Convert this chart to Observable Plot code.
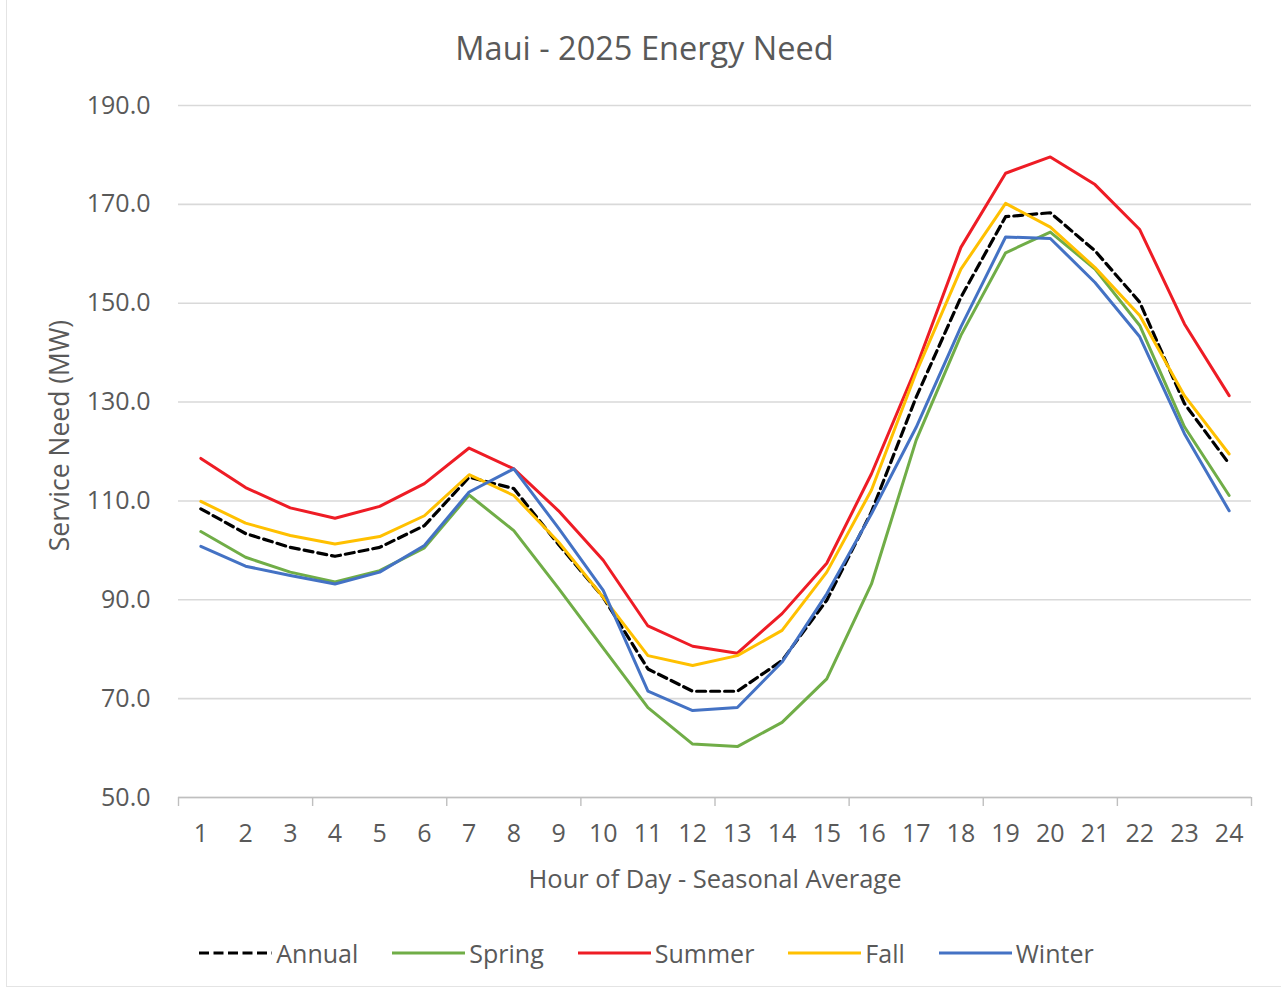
<!DOCTYPE html>
<html>
<head>
<meta charset="utf-8">
<script src="https://cdn.jsdelivr.net/npm/d3@7"></script>
<script src="https://cdn.jsdelivr.net/npm/@observablehq/plot@0.6"></script>
<style>
  html, body { margin: 0; padding: 0; background: #fff; }
  body { width: 1281px; height: 994px; position: relative; overflow: hidden; font-family: "Open Sans", sans-serif; color: #595959; }
  #frame { position: absolute; left: 6px; top: -2px; width: 1290px; height: 989px; border: 1px solid #e4e4e4; box-sizing: border-box; pointer-events: none; }
  #title { height: 85px; box-sizing: border-box; padding-top: 10px; line-height: 76px; text-align: center; font-size: 32.5px; padding-left: 8px; }
  #chart { height: 820px; }
  #legend { display: flex; justify-content: center; align-items: center; height: 60px; margin-top: 18px; font-size: 25px; padding-left: 12px; }
  .item { display: flex; align-items: center; margin: 0 17px; }
  .item svg { margin-right: 4px; }
</style>
</head>
<body>
<div id="frame"></div>
<div id="title"></div>
<div id="chart"></div>
<div id="legend"></div>
<script>
const titleText = "Maui - 2025 Energy Need";
const yLabel = "Service Need (MW)";
const xLabel = "Hour of Day - Seasonal Average";

const hours = d3.range(1, 25);
const yTicks = [50, 70, 90, 110, 130, 150, 170, 190];
const tickBoundaries = [0.5, 3.5, 6.5, 9.5, 12.5, 15.5, 18.5, 21.5, 24.5];

const seriesNames = ["Annual", "Spring", "Summer", "Fall", "Winter"];
const seriesColors = ["#000000", "#70AD47", "#EE1C25", "#FFC000", "#4472C4"];

const annual = [108.4, 103.4, 100.6, 98.8, 100.6, 105.0, 114.8, 112.5, 101.2, 90.5, 76.0, 71.5, 71.5, 77.7, 89.9, 107.8, 131.0, 151.2, 167.5, 168.3, 160.6, 150.2, 129.7, 117.5];
const spring = [103.8, 98.6, 95.6, 93.6, 95.9, 100.5, 111.2, 104.0, 92.3, 80.2, 68.2, 60.8, 60.3, 65.2, 74.0, 93.2, 122.3, 143.5, 160.2, 164.4, 156.9, 145.5, 125.0, 111.1];
const summer = [118.6, 112.7, 108.6, 106.5, 108.9, 113.5, 120.7, 116.5, 108.0, 98.0, 84.7, 80.6, 79.2, 87.2, 97.4, 115.5, 137.0, 161.3, 176.3, 179.6, 174.0, 164.9, 145.8, 131.3];
const fall = [109.9, 105.5, 103.0, 101.3, 102.8, 107.0, 115.3, 111.1, 101.7, 90.5, 78.7, 76.7, 78.7, 83.8, 95.6, 112.2, 136.0, 156.9, 170.2, 165.4, 157.2, 147.5, 131.3, 119.5];
const winter = [100.8, 96.8, 94.9, 93.2, 95.6, 101.0, 111.8, 116.5, 104.5, 91.9, 71.5, 67.6, 68.2, 77.4, 91.2, 107.4, 124.9, 145.2, 163.4, 163.1, 154.2, 143.2, 123.6, 108.0];

const seriesValues = [annual, spring, summer, fall, winter];
const rows = seriesNames.flatMap((name, i) => seriesValues[i].map((v, j) => ({series: name, hour: hours[j], value: v})));

document.getElementById("title").textContent = titleText;

const font = "Open Sans, sans-serif";
const solidSeries = seriesNames.filter(s => s !== "Annual");

const chart = Plot.plot({
  width: 1281,
  height: 820,
  marginLeft: 178,
  marginRight: 30,
  marginTop: 20,
  marginBottom: 108,
  style: {fontFamily: font, color: "#595959", background: "white"},
  x: {type: "linear", domain: [0.5, 24.5]},
  y: {type: "linear", domain: [50, 190]},
  color: {domain: seriesNames, range: seriesColors},
  marks: [
    Plot.gridY({ticks: yTicks, stroke: "#d9d9d9", strokeOpacity: 1, strokeWidth: 1.6}),
    Plot.ruleY([50], {stroke: "#bfbfbf", strokeWidth: 1.6}),
    Plot.axisX({ticks: tickBoundaries, tickSize: 9, tickFormat: () => "", stroke: "#bfbfbf", strokeWidth: 1.4, label: null}),
    Plot.axisX({ticks: hours, tickSize: 0, tickPadding: 27, fontSize: 25, fill: "#595959", label: null, tickFormat: d => String(d)}),
    Plot.axisY({ticks: yTicks, tickSize: 0, tickPadding: 28, fontSize: 25, fill: "#595959", label: null, tickFormat: d => d.toFixed(1)}),
    Plot.text([xLabel], {frameAnchor: "bottom", dy: 90, fontSize: 25.5, fill: "#595959", text: d => d}),
    Plot.text([yLabel], {frameAnchor: "left", textAnchor: "middle", dx: -118, dy: -16, rotate: -90, fontSize: 26.5, fill: "#595959", text: d => d}),
    Plot.line(rows.filter(d => d.series === "Annual"), {x: "hour", y: "value", stroke: "series", strokeWidth: 3.2, strokeDasharray: "9,5", strokeLinejoin: "round"}),
    ...solidSeries.map(s => Plot.line(rows.filter(d => d.series === s), {x: "hour", y: "value", stroke: "series", strokeWidth: 3, strokeLinejoin: "round"}))
  ]
});
document.getElementById("chart").appendChild(chart);

const legend = document.getElementById("legend");
seriesNames.forEach((name, i) => {
  const item = document.createElement("div");
  item.className = "item";
  const dash = name === "Annual" ? ' stroke-dasharray="10,4.5"' : "";
  item.innerHTML = `<svg width="73" height="10"><line x1="0" y1="5" x2="73" y2="5" stroke="${seriesColors[i]}" stroke-width="3.2"${dash}/></svg><span>${name}</span>`;
  legend.appendChild(item);
});
</script>
</body>
</html>
